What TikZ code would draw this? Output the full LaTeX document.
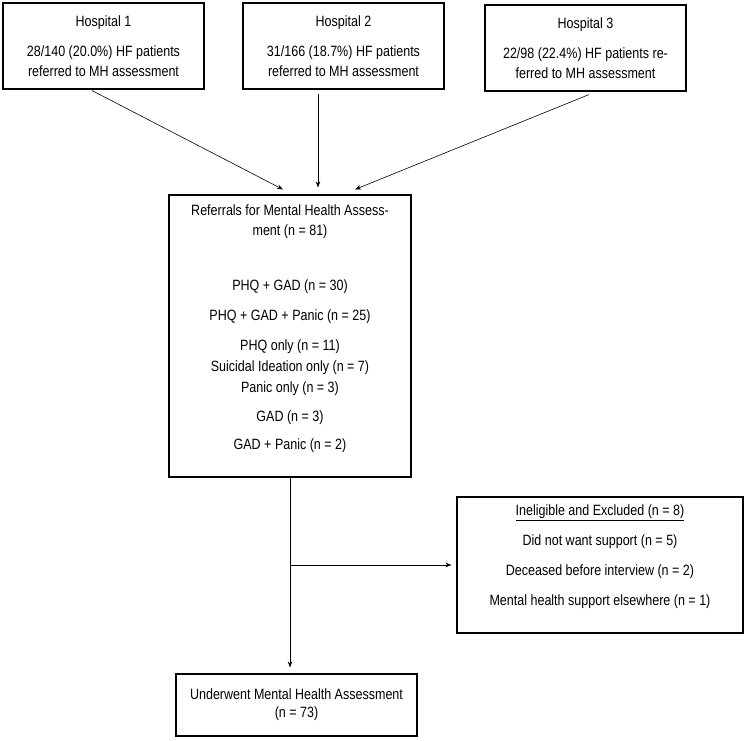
\documentclass[tikz,border=0pt]{standalone}
\usepackage{fontspec}
\setmainfont{Liberation Sans}[FakeStretch=0.84]
\usetikzlibrary{arrows.meta}

\begin{document}
\begin{tikzpicture}[x=1pt, y=-1pt, every node/.style={font=\fontsize{14.9}{20}\selectfont},
  box/.style={draw, line width=1.1pt, align=center, inner sep=0pt},
  arr/.style={-{Stealth[length=6pt,width=4.5pt]}, semithick}]
\useasboundingbox (0,0) rectangle (747,740);
% hospitals
\node[box, minimum width=201, minimum height=86] (hosp1) at (103.5,46) {Hospital 1\\[10pt]28/140 (20.0\%) HF patients\\referred to MH assessment};
\node[box, minimum width=201, minimum height=86] (hosp2) at (343.5,46) {Hospital 2\\[10pt]31/166 (18.7\%) HF patients\\referred to MH assessment};
\node[box, minimum width=201, minimum height=86] (hosp3) at (585.5,48) {Hospital 3\\[10pt]22/98 (22.4\%) HF patients re-\\ferred to MH assessment};
% referrals
\node[box, minimum width=242, minimum height=282] (referral) at (290,336) {};
\node[align=center] (reftitle) at (290,221.5) {Referrals for Mental Health Assess-\\ment (n = 81)};
\foreach \y/\txt [count=\i] in {287/{PHQ + GAD (n = 30)}, 317/{PHQ + GAD + Panic (n = 25)}, 347/{PHQ only (n = 11)}, 368/{Suicidal Ideation only (n = 7)}, 389/{Panic only (n = 3)}, 418/{GAD (n = 3)}, 446/{GAD + Panic (n = 2)}}
  \node (cat\i) at (290,\y) {\txt};
% excluded
\node[box, minimum width=286, minimum height=136] (excluded) at (600,565) {};
\foreach \y/\txt [count=\i] in {513/{\underline{Ineligible and Excluded (n = 8)}}, 542/{Did not want support (n = 5)}, 572/{Deceased before interview (n = 2)}, 602/{Mental health support elsewhere (n = 1)}}
  \node (exc\i) at (600,\y) {\txt};
% assessed
\node[box, minimum width=241, minimum height=62, font=\fontsize{14.9}{18}\selectfont] (assessed) at (296.5,705) {Underwent Mental Health Assessment\\(n = 73)};
% arrows
\draw[arr] ([xshift=-11.5,yshift=-1]hosp1.south) -- ([xshift=-7,yshift=5]referral.north);
\draw[arr] ([xshift=-25.5,yshift=-4]hosp2.south) -- ([xshift=28,yshift=7]referral.north);
\draw[arr] ([xshift=3.5,yshift=-3]hosp3.south) -- ([xshift=65,yshift=5]referral.north);
\draw[arr, shorten >=6pt] (referral.south) -- (referral.south |- assessed.north);
\draw[arr, shorten >=5pt] (referral.south |- excluded.west) -- (excluded.west);
\end{tikzpicture}
\end{document}
